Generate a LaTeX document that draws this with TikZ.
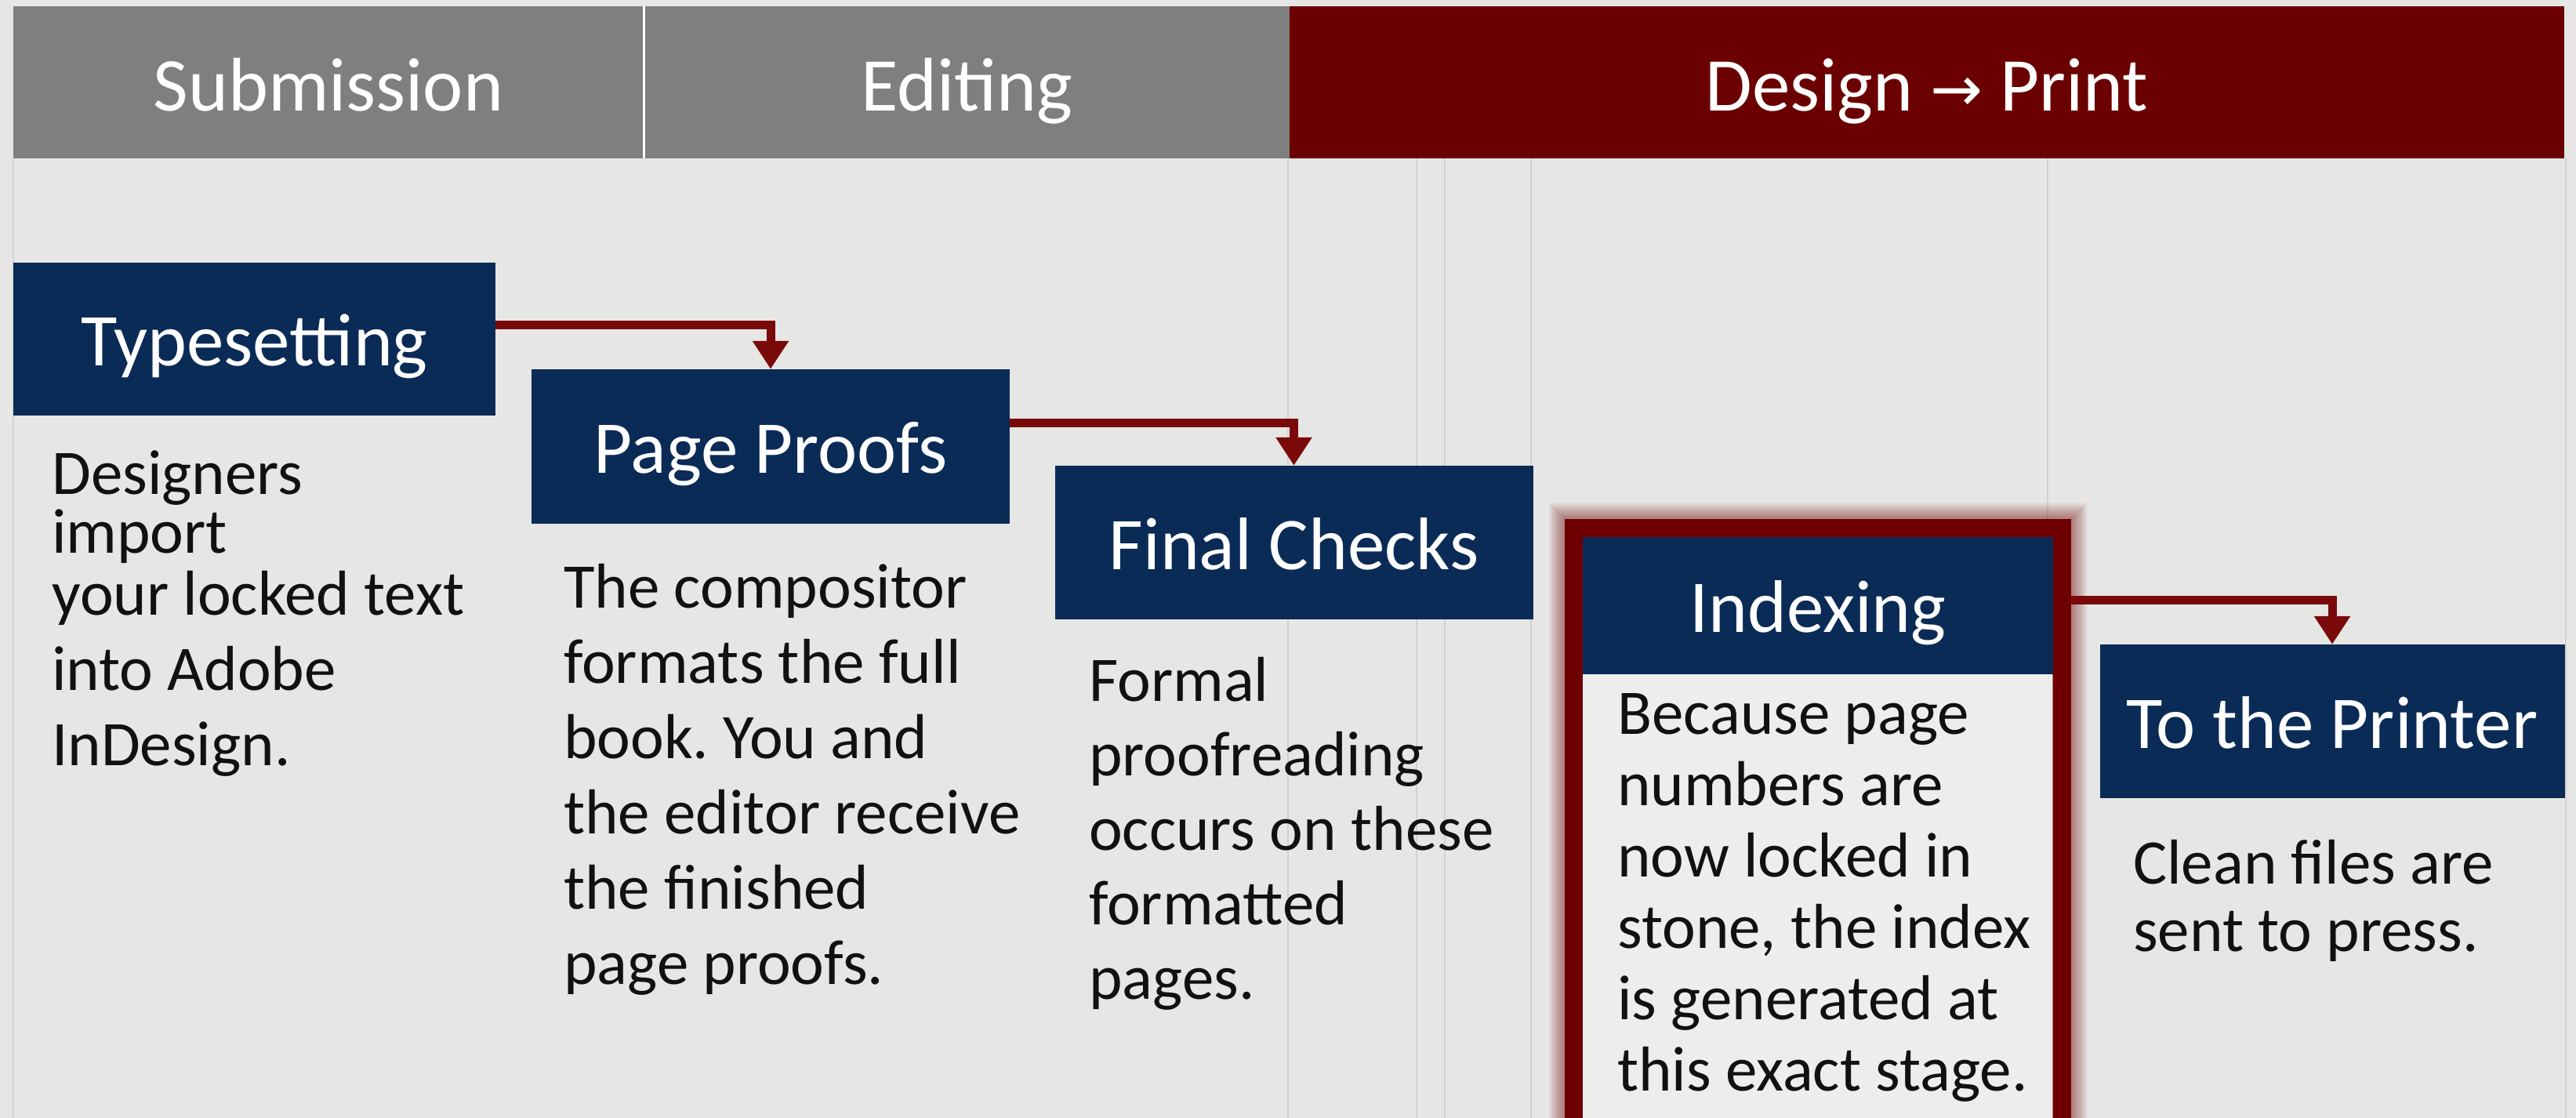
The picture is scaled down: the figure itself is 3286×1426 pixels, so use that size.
\documentclass[tikz,border=0pt]{standalone}
\usepackage{fontspec}
\setmainfont{Carlito}
\newfontfamily\arrowfont{DejaVu Sans}
\usetikzlibrary{arrows.meta}
\frenchspacing
\definecolor{bgc}{HTML}{E6E6E4}
\definecolor{innerbg}{HTML}{EDEDEC}
\definecolor{hdrgray}{HTML}{7F7F7F}
\definecolor{hdrred}{HTML}{6B0000}
\definecolor{navyc}{HTML}{0B2B57}
\definecolor{arrred}{HTML}{7A0A0A}
\definecolor{boxred}{HTML}{6E0000}
\definecolor{colline}{HTML}{D2D2D2}
\definecolor{txt}{HTML}{111111}
\newcommand\firstln{\rule{0pt}{60pt}}
\tikzset{
  hdr/.style={inner sep=0pt, minimum height=194pt, text=white,
    text height=80pt, text depth=6pt,
    font=\fontsize{97}{100}\selectfont},
  stepbox/.style={fill=navyc, inner sep=0pt, text=white,
    text height=78pt, text depth=10pt,
    font=\fontsize{95}{100}\selectfont},
  desc/.style={anchor=north west, inner sep=0pt, align=left, text=txt},
  conn/.style={draw=arrred, line width=11pt,
    -{Triangle[width=44pt,length=36pt]}},
  colsep/.style={draw=colline, line width=2pt}
}
\begin{document}
\begin{tikzpicture}[x=1pt,y=-1pt]
\clip (0,0) rectangle (3286,1426);
\fill[bgc] (0,0) rectangle (3286,1426);
% faint column separators
\foreach \cx in {17,1643,1807,1843,1953,2612,3273}
  \draw[colsep] (\cx,202) -- (\cx,1426);
% header bars
\node[hdr, fill=hdrgray, minimum width=804pt] (sub) at (419,105) {Submission};
\node[hdr, fill=hdrgray, minimum width=824pt] (edit) at (1233,105) {Editing};
\node[hdr, fill=hdrred, minimum width=1626pt] (dp) at (2458,105)
  {Design {\arrowfont\fontsize{80}{100}\selectfont →} Print};
\draw[white, line width=3pt] (sub.north east) -- (sub.south east);
% Indexing highlighted frame: glow, inner fill, border
\foreach \i in {1,...,10}
  \draw[boxred, opacity=0.055, line width={23+4*\i}] (2007,673) rectangle (2630,1480);
\fill[innerbg] (2019,685) rectangle (2618,1480);
\node[draw=boxred, line width=23pt, minimum width=623pt, minimum height=807pt,
  inner sep=0pt] (idxframe) at (2318.5,1076.5) {};
% step boxes
\node[stepbox, minimum width=615pt, minimum height=195pt] (typ) at (324.5,432.5) {Typesetting};
\node[stepbox, minimum width=610pt, minimum height=197pt] (pp) at (983,569.5) {Page Proofs};
\node[stepbox, minimum width=610pt, minimum height=196pt] (fc) at (1650.5,692) {Final Checks};
\node[stepbox, minimum width=600pt, minimum height=175pt] (idx) at (2319,772.5) {Indexing};
\node[stepbox, minimum width=593pt, minimum height=196pt] (prn) at (2975,920) {To the Printer};
% descriptions
\node[desc, font=\fontsize{81}{96}\selectfont] (d1) at (66,570)
  {\firstln Designers\\[-21pt]import\\[-17pt]your locked text\\into Adobe\\InDesign.};
\node[desc, font=\fontsize{81}{96}\selectfont] (d2) at (719,715)
  {\firstln The compositor\\formats the full\\book. You and\\the editor receive\\the finished\\page proofs.};
\node[desc, font=\fontsize{81}{95}\selectfont] (d3) at (1389,834)
  {\firstln Formal\\proofreading\\occurs on these\\formatted\\pages.};
\node[desc, font=\fontsize{81}{91}\selectfont] (d4) at (2063,876)
  {\firstln Because page\\numbers are\\now locked in\\stone, the index\\is generated at\\this exact stage.};
\node[desc, font=\fontsize{81}{86}\selectfont] (d5) at (2721,1067)
  {\firstln Clean files are\\sent to press.};
% connectors
\draw[conn] ([yshift=18.5pt]typ.east) -| (pp.north);
\draw[conn] ([yshift=30pt]pp.east) -| (fc.north);
\draw[conn] ([yshift=-103.5pt]idxframe.north east) -| (prn.north);
\end{tikzpicture}
\end{document}
